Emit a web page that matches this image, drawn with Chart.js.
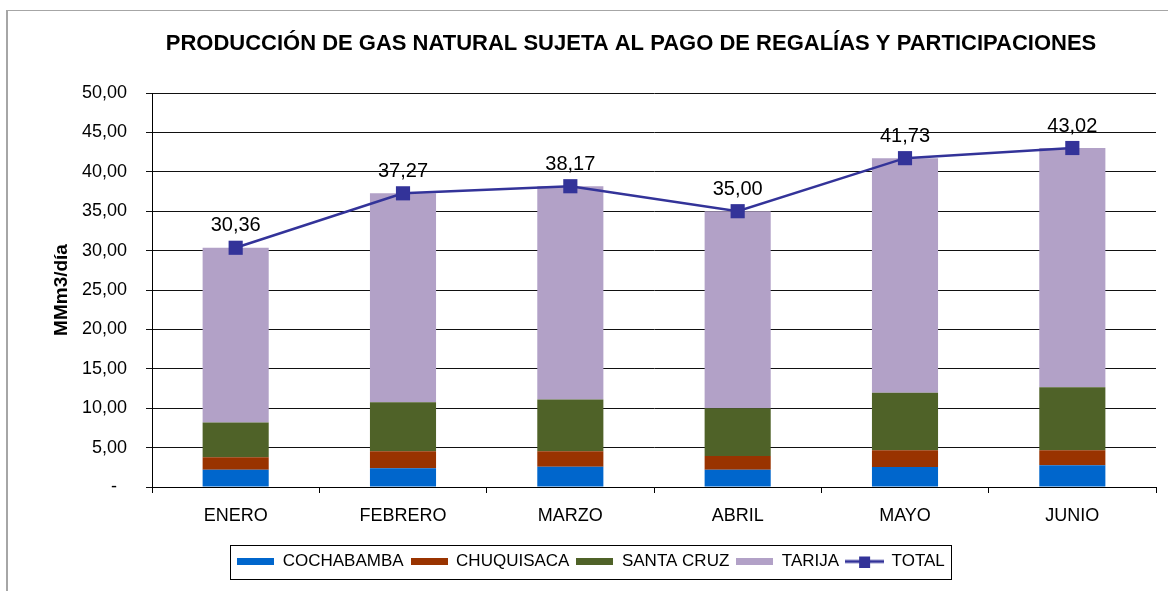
<!DOCTYPE html>
<html><head><meta charset="utf-8">
<script src="https://cdn.jsdelivr.net/npm/chart.js@4.4.0/dist/chart.umd.min.js"></script>
<style>
html,body{margin:0;padding:0;background:#fff;}
#wrap{position:relative;width:1168px;height:591px;overflow:hidden;background:#fff;}
#frame{position:absolute;left:6px;top:10px;width:1300px;height:700px;border-left:2px solid #a6a6a6;border-top:1px solid #a6a6a6;}
canvas{position:absolute;left:0;top:0;}
</style></head><body>
<div id="wrap"><div id="frame"></div><canvas id="c" width="1168" height="591"></canvas></div>
<script>
const categories = ['ENERO','FEBRERO','MARZO','ABRIL','MAYO','JUNIO'];
const cochabamba = [2.19, 2.39, 2.57, 2.20, 2.54, 2.75];
const chuquisaca = [1.60, 2.16, 1.98, 1.74, 2.12, 1.91];
const santaCruz  = [4.41, 6.20, 6.54, 6.06, 7.30, 8.01];
const tarija     = [22.16, 26.52, 27.08, 25.00, 29.77, 30.35];
const total      = [30.36, 37.27, 38.17, 35.00, 41.73, 43.02];
const yTickLabels = ['-  ','5,00','10,00','15,00','20,00','25,00','30,00','35,00','40,00','45,00','50,00'];
const seriesNames = ['COCHABAMBA','CHUQUISACA','SANTA CRUZ','TARIJA','TOTAL'];
const chartTitle = 'PRODUCCIÓN DE GAS NATURAL SUJETA AL PAGO DE REGALÍAS Y PARTICIPACIONES';
const yTitle = 'MMm3/día';

const FONT = "'Liberation Sans', Arial, sans-serif";
Chart.defaults.font.family = FONT;
Chart.defaults.color = '#000';

const colors = ['#0066CC','#993300','#4F6228','#B2A1C7','#333399'];

function rectSymbol(color){
  const c = document.createElement('canvas'); c.width = 37; c.height = 7;
  const x = c.getContext('2d'); x.fillStyle = color; x.fillRect(0,0,37,7); return c;
}
function lineSymbol(color){
  const c = document.createElement('canvas'); c.width = 39; c.height = 12;
  const x = c.getContext('2d'); x.fillStyle = color; x.fillRect(0,4.5,39,3); x.fillRect(14,1,11,11); return c;
}
const symbols = [rectSymbol(colors[0]),rectSymbol(colors[1]),rectSymbol(colors[2]),rectSymbol(colors[3]),lineSymbol(colors[4])];

const fmt = v => v.toFixed(2).replace('.', ',');

const extras = {
  id: 'extras',
  afterDatasetsDraw(chart){
    const ctx = chart.ctx;
    const meta = chart.getDatasetMeta(4);
    ctx.save();
    ctx.font = '20px ' + FONT;
    ctx.fillStyle = '#000';
    ctx.textAlign = 'center';
    ctx.textBaseline = 'middle';
    meta.data.forEach((pt, i) => ctx.fillText(fmt(total[i]), pt.x, pt.y - 22));
    ctx.restore();
  },
  afterDraw(chart){
    const ctx = chart.ctx;
    ctx.save();
    ctx.font = 'bold 22px ' + FONT;
    ctx.fillStyle = '#000';
    ctx.textAlign = 'center';
    ctx.textBaseline = 'middle';
    ctx.fillText(chartTitle, 631, 44);
    const hb = chart.legend.legendHitBoxes;
    if (hb && hb.length){
      const l = Math.min(...hb.map(h => h.left)) - 7;
      const r = Math.max(...hb.map(h => h.left + h.width)) + 6;
      const cy = hb[0].top + hb[0].height / 2;
      ctx.strokeStyle = '#000';
      ctx.lineWidth = 1;
      ctx.strokeRect(Math.round(l) + 0.5, Math.round(cy - 17) + 0.5, Math.round(r - l), 34);
    }
    ctx.restore();
  }
};

const barDs = (label, data, color) => ({
  type: 'bar', label, data, backgroundColor: color, borderWidth: 0,
  barPercentage: 0.395, categoryPercentage: 1, order: 1, stack: 'prov'
});

new Chart(document.getElementById('c'), {
  data: {
    labels: categories,
    datasets: [
      barDs(seriesNames[0], cochabamba, colors[0]),
      barDs(seriesNames[1], chuquisaca, colors[1]),
      barDs(seriesNames[2], santaCruz, colors[2]),
      barDs(seriesNames[3], tarija, colors[3]),
      { type: 'line', label: seriesNames[4], data: total, borderColor: colors[4], backgroundColor: colors[4],
        borderWidth: 2.5, pointStyle: 'rect', pointRadius: 10, pointBorderWidth: 0, pointBackgroundColor: colors[4],
        tension: 0, order: 0, stack: 'total' }
    ]
  },
  options: {
    responsive: false,
    animation: false,
    devicePixelRatio: 1,
    layout: { padding: { left: 26, right: 12, top: 93, bottom: 11 } },
    plugins: {
      title: { display: false },
      tooltip: { enabled: false },
      legend: {
        position: 'bottom',
        labels: {
          font: { size: 17 }, color: '#000', padding: 7,
          usePointStyle: true, pointStyleWidth: 37,
          generateLabels: chart => chart.data.datasets.map((ds, i) => ({
            text: ds.label, pointStyle: symbols[i], datasetIndex: i, hidden: false,
            fillStyle: 'transparent', strokeStyle: 'transparent', lineWidth: 0, fontColor: '#000'
          }))
        }
      }
    },
    scales: {
      x: {
        stacked: true,
        grid: { drawOnChartArea: false, drawTicks: true, tickLength: 6, color: '#000', offset: true },
        border: { color: '#000', width: 1 },
        ticks: { font: { size: 18 }, color: '#000', padding: 12, maxRotation: 0 },
        afterFit: s => { s.height = 59; }
      },
      y: {
        stacked: true,
        min: 0, max: 50,
        ticks: { stepSize: 5, font: { size: 18 }, color: '#000', padding: 19,
          callback: (v, i) => yTickLabels[i] },
        grid: { color: '#111', lineWidth: 1, tickLength: 6 },
        border: { color: '#000', width: 1 },
        title: { display: true, text: yTitle, font: { size: 19, weight: 'bold' }, color: '#000', padding: { top: 24, bottom: 0 } },
        afterFit: s => { s.width = 126; }
      }
    }
  },
  plugins: [extras]
});
</script>
</body></html>
